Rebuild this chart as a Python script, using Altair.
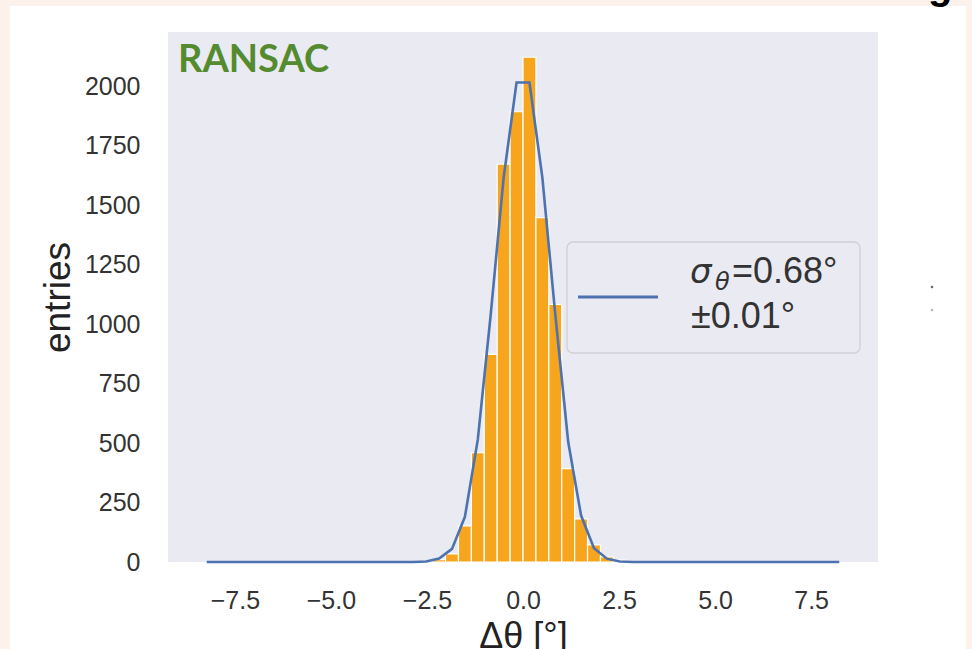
import altair as alt
import pandas as pd

# Histogram of angular residuals (bin width 0.336 deg)
BIN_WIDTH = 0.336
bin_left = [-2.688, -2.352, -2.016, -1.68, -1.344, -1.008, -0.672, -0.336,
            0.0, 0.336, 0.672, 1.008, 1.344, 1.68, 2.016, 2.352]
counts = [2, 10, 34, 152, 459, 872, 1672, 1892,
          2121, 1447, 1082, 392, 181, 72, 21, 8]

# Gaussian fit evaluated at the bin centres
fit_x = [-8.232, -2.856, -2.52, -2.184, -1.848, -1.512, -1.176, -0.84, -0.504, -0.168,
         0.168, 0.504, 0.84, 1.176, 1.512, 1.848, 2.184, 2.52, 2.856, 8.232]
fit_y = [0, 0, 2, 15, 55, 190, 515, 1040, 1615, 2015,
         2015, 1615, 1040, 505, 195, 58, 14, 2, 0, 0]

x_ticks = [-7.5, -5.0, -2.5, 0.0, 2.5, 5.0, 7.5]
y_ticks = [0, 250, 500, 750, 1000, 1250, 1500, 1750, 2000]

legend_value = "=0.68°"
legend_error = "±0.01°"
panel_label = "RANSAC"

W, H = 710, 530
X_DOMAIN = [-9.24, 9.24]
Y_DOMAIN = [0, 2227]

BLUE = "#4c72b0"
ORANGE = "#f7a51c"
PANEL = "#eaeaf2"
FRAME = "#fdf1ec"
TXT = "#333333"

bars_df = pd.DataFrame({
    "lo": bin_left,
    "hi": [b + BIN_WIDTH for b in bin_left],
    "n": counts,
})
fit_df = pd.DataFrame({"x": fit_x, "y": fit_y})
one = pd.DataFrame({"k": [0]})

xs = alt.Scale(domain=X_DOMAIN, nice=False, zero=False)
ys = alt.Scale(domain=Y_DOMAIN, nice=False)

x_axis = alt.Axis(values=x_ticks, format=".1f", title="Δθ [°]",
                  labelPadding=26, titlePadding=6)
y_axis = alt.Axis(values=y_ticks, format="d", title="entries",
                  labelPadding=28, titlePadding=7, titleFontSize=37)


def strip(x0, x1, y0, y1):
    """A flat rectangle given in pixel offsets from the plot origin."""
    return alt.Chart(one).mark_rect(color=FRAME).encode(
        x=alt.value(x0), x2=alt.value(x1), y=alt.value(y0), y2=alt.value(y1))


# thin coloured slide border around the white figure
frame = [strip(-168, -158, -32, 617), strip(-168, 804, -32, -26), strip(798, 804, -32, 617)]

panel = alt.Chart(one).mark_rect(color=PANEL).encode(
    x=alt.value(0), x2=alt.value(W), y=alt.value(0), y2=alt.value(H))

bars = alt.Chart(bars_df).mark_rect(color=ORANGE, stroke="white", strokeWidth=1.2).encode(
    x=alt.X("lo:Q", scale=xs, axis=x_axis),
    x2="hi:Q",
    y=alt.Y("n:Q", scale=ys, axis=y_axis),
    y2=alt.datum(0),
)

fit = alt.Chart(fit_df).mark_line(color=BLUE, strokeWidth=2.6).encode(
    x=alt.X("x:Q", scale=xs, axis=x_axis),
    y=alt.Y("y:Q", scale=ys, axis=y_axis),
)

# legend
leg_box = alt.Chart(one).mark_rect(
    fill=PANEL, fillOpacity=0.9, stroke="#cfcfd6", strokeWidth=1.3, cornerRadius=6
).encode(x=alt.value(399), x2=alt.value(692), y=alt.value(210), y2=alt.value(321))

leg_line = alt.Chart(one).mark_rule(color=BLUE, strokeWidth=3).encode(
    x=alt.value(410), x2=alt.value(490), y=alt.value(265))

sigma = alt.Chart(one).mark_text(
    text="σ", align="left", baseline="alphabetic", font="DejaVu Sans",
    fontStyle="italic", fontSize=34, color=TXT
).encode(x=alt.value(522), y=alt.value(251))

theta = alt.Chart(one).mark_text(
    text="θ", align="left", baseline="alphabetic", font="DejaVu Sans",
    fontStyle="italic", fontSize=24, color=TXT
).encode(x=alt.value(547), y=alt.value(258))

val = alt.Chart(one).mark_text(
    text=legend_value, align="left", baseline="alphabetic", font="Liberation Sans",
    fontSize=36, color=TXT
).encode(x=alt.value(564), y=alt.value(251))

err = alt.Chart(one).mark_text(
    text=legend_error, align="left", baseline="alphabetic", font="Liberation Sans",
    fontSize=36, color=TXT
).encode(x=alt.value(523), y=alt.value(296))

label = alt.Chart(one).mark_text(
    text=panel_label, align="left", baseline="alphabetic", font="Lato",
    fontWeight="bold", fontSize=38, color="#558b2f"
).encode(x=alt.value(10), y=alt.value(40))

# fragments of neighbouring slide text
g_glyph = alt.Chart(one).mark_text(
    text="g", align="left", baseline="alphabetic", font="Liberation Sans",
    fontWeight="bold", fontSize=40, color="black"
).encode(x=alt.value(760), y=alt.value(-33))

dot_a = alt.Chart(one).mark_circle(size=7, color="#444444", opacity=0.8).encode(
    x=alt.value(764), y=alt.value(255))
dot_b = alt.Chart(one).mark_circle(size=6, color="#888888", opacity=0.6).encode(
    x=alt.value(764), y=alt.value(278))

chart = alt.layer(
    *frame, panel, bars, fit, leg_box, leg_line, sigma, theta, val, err, label,
    g_glyph, dot_a, dot_b
).properties(
    width=W, height=H,
    padding={"left": 168, "top": 32, "right": 94, "bottom": 87},
    autosize=alt.AutoSizeParams(type="none"),
    background="white",
).configure_view(
    strokeWidth=0, fill=PANEL
).configure_axis(
    grid=False, domain=False, ticks=False, tickSize=0,
    labelFont="Liberation Sans", labelFontSize=25, labelColor=TXT,
    titleFont="Liberation Sans", titleFontSize=36, titleColor="#222222",
    titleFontWeight="normal",
)

chart.save("out.html", embed_options={"renderer": "svg", "actions": False})
